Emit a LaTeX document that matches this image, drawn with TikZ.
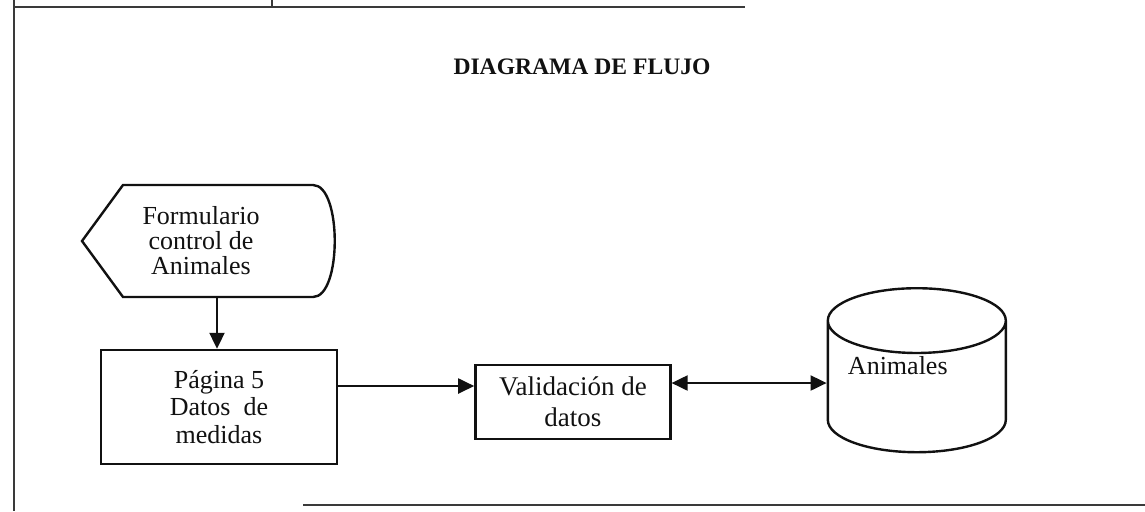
\documentclass[tikz,border=0pt]{standalone}
\usepackage{fontspec}
\setmainfont{Liberation Serif}
\usetikzlibrary{calc,positioning,arrows.meta,shapes.geometric}
\definecolor{tinta}{HTML}{111111}
\definecolor{marco}{HTML}{3A3A3A}

\begin{document}
\begin{tikzpicture}[
      x=0.5pt, y=-0.5pt,
      every node/.style={font=\fontsize{13}{15}\selectfont, text=tinta},
      caja/.style={
        draw=tinta, line width=1.2pt,
        inner sep=0pt,
        align=center
      },
      flecha/.style={-{Triangle[length=8pt,width=7.5pt]}, draw=tinta, line width=1pt},
      flechas/.style={{Triangle[length=8pt,width=7.5pt]}-{Triangle[length=8pt,width=7.5pt]}, draw=tinta, line width=1pt}
    ]
      \useasboundingbox (0,0) rectangle (1145,511);
      % marco de la hoja
      \draw[marco, line width=0.8pt] (14,0) -- (14,511);
      \draw[marco, line width=0.8pt] (14,7) -- (745,7);
      \draw[marco, line width=0.8pt] (272,0) -- (272,7);
      \draw[marco, line width=0.8pt] (303,505) -- (1145,505);

      \node[font=\fontsize{11.8}{14}\selectfont\bfseries] (titulo) at (582,67) {DIAGRAMA DE FLUJO};

      % documento de entrada (display)
      \node[align=center, inner sep=0pt, font=\fontsize{13}{12.5}\selectfont] (form) at (201,241) {
        Formulario\\control de\\Animales
      };
      \draw[tinta, line width=1.2pt]
        ($(form.center)+(-119,0)$) -- ($(form.center)+(-78,-56)$) -- ($(form.center)+(112,-56)$)
        .. controls ($(form.center)+(141,-56)$) and ($(form.center)+(141,56)$) .. ($(form.center)+(112,56)$)
        -- ($(form.center)+(-78,56)$) -- cycle;
      \coordinate (formbase) at ($(form.center)+(16,56)$);

      \node[caja, minimum width=118pt, minimum height=57pt, font=\fontsize{13}{13.75}\selectfont] (pag) at (219,407) {
        Página 5\\Datos~ de\\medidas
      };
      \node[caja, minimum width=97.5pt, minimum height=37pt, font=\fontsize{13.5}{15.5}\selectfont,
        right=68pt of pag, yshift=2.5pt] (val) {
        Validación de\\datos
      };
      % base de datos: texto algo arriba y a la izquierda
      \node[shape=cylinder, shape border rotate=90, aspect=0.65, draw=tinta, line width=1.2pt,
        minimum width=89pt, minimum height=82pt, inner sep=0pt, text depth=22pt,
        right=77.5pt of val, yshift=7.5pt] (bd) {\kern-9.5pt Animales\rule{9.5pt}{0pt}};

      \draw[flecha] (formbase) -- (formbase |- pag.north);
      \coordinate (f1) at ($(pag.east)+(0,-21)$);
      \draw[flecha] (f1) -- (f1 -| val.west);
      \coordinate (f2) at ($(val.east)+(0,-19)$);
      \draw[flechas] (f2) -- (f2 -| bd.west);
    \end{tikzpicture}
\end{document}
